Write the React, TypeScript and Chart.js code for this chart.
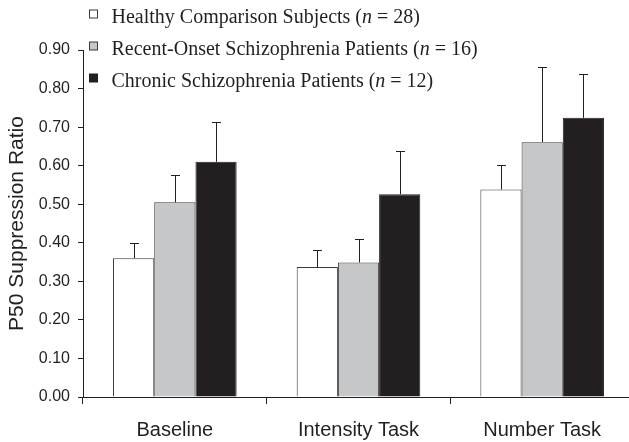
import React, { useEffect, useRef } from "react";
import { Chart, registerables } from "chart.js";

Chart.register(...registerables);

const categories = ["Baseline", "Intensity Task", "Number Task"];
const groupNames = [
  "Healthy Comparison Subjects",
  "Recent-Onset Schizophrenia Patients",
  "Chronic Schizophrenia Patients",
];
const groupN = [28, 16, 12];
const healthyMeans = [0.36, 0.337, 0.538];
const recentMeans = [0.505, 0.349, 0.661];
const chronicMeans = [0.61, 0.526, 0.724];
const healthyErr = [0.04, 0.045, 0.064];
const recentErr = [0.072, 0.061, 0.196];
const chronicErr = [0.104, 0.112, 0.115];
const yTicks = [0, 0.1, 0.2, 0.3, 0.4, 0.5, 0.6, 0.7, 0.8, 0.9];

const fills = ["#ffffff", "#c6c7c8", "#231f20"];
const borders = ["#3a3a3a", "#3a3a3a", "#231f20"];
const textColor = "#231f20";

const errorBarPlugin = {
  id: "errorBars",
  afterDatasetsDraw(chart: any) {
    const { ctx } = chart;
    const yScale = chart.scales.y;
    ctx.save();
    ctx.strokeStyle = "#231f20";
    ctx.lineWidth = 1;
    chart.data.datasets.forEach((ds: any, i: number) => {
      const meta = chart.getDatasetMeta(i);
      meta.data.forEach((el: any, j: number) => {
        const v = ds.data[j] + ds.errors[j];
        const yTop = Math.round(yScale.getPixelForValue(v)) + 0.5;
        const x = Math.round(el.x) + 0.5;
        ctx.beginPath();
        ctx.moveTo(x, el.y);
        ctx.lineTo(x, yTop);
        ctx.moveTo(x - 4.5, yTop);
        ctx.lineTo(x + 4.5, yTop);
        ctx.stroke();
      });
    });
    ctx.restore();
  },
};

const legendPlugin = {
  id: "customLegend",
  afterDraw(chart: any) {
    const { ctx } = chart;
    ctx.save();
    const boxX = 89.5;
    const textX = 111.5;
    const baseY = 23;
    const step = 32;
    groupNames.forEach((name, i) => {
      const by = baseY + i * step;
      ctx.fillStyle = fills[i];
      ctx.strokeStyle = borders[i];
      ctx.lineWidth = 1;
      ctx.fillRect(boxX, by - 13, 8, 8);
      ctx.strokeRect(boxX, by - 13, 8, 8);
      ctx.fillStyle = textColor;
      ctx.textBaseline = "alphabetic";
      ctx.textAlign = "left";
      let x = textX;
      const parts: [string, boolean][] = [
        [name + " (", false],
        ["n", true],
        [" = " + groupN[i] + ")", false],
      ];
      parts.forEach(([t, it]) => {
        ctx.font = (it ? "italic " : "") + '20px "Liberation Serif"';
        ctx.fillText(t, x, by);
        x += ctx.measureText(t).width;
      });
    });
    ctx.restore();
  },
};

export default function App() {
  const ref = useRef<HTMLCanvasElement | null>(null);
  useEffect(() => {
    if (!ref.current) return;
    const means = [healthyMeans, recentMeans, chronicMeans];
    const errs = [healthyErr, recentErr, chronicErr];
    const chart = new Chart(ref.current, {
      type: "bar",
      data: {
        labels: categories,
        datasets: groupNames.map((name, i) => ({
          label: name + " (n = " + groupN[i] + ")",
          data: means[i],
          errors: errs[i],
          backgroundColor: fills[i],
          borderColor: borders[i],
          borderWidth: 1,
          borderSkipped: "bottom",
          categoryPercentage: 0.673,
          barPercentage: 1,
        })) as any,
      },
      options: {
        animation: false,
        responsive: false,
        devicePixelRatio: 1,
        layout: { padding: { top: 50, right: 0, bottom: 0, left: 0 } },
        plugins: {
          legend: { display: false },
          tooltip: { enabled: false },
        },
        scales: {
          x: {
            grid: {
              offset: true,
              drawOnChartArea: false,
              drawTicks: true,
              tickLength: 7,
              color: "#231f20",
            },
            border: { display: true, color: "#231f20", width: 1 },
            ticks: {
              color: textColor,
              font: { family: '"Liberation Sans"', size: 20 },
              padding: 14,
            },
            afterFit(scale: any) {
              scale.height = 45;
            },
          },
          y: {
            min: 0,
            max: 0.9,
            afterBuildTicks(scale: any) {
              scale.ticks = yTicks.map((v) => ({ value: v }));
            },
            grid: {
              drawOnChartArea: false,
              drawTicks: true,
              tickLength: 5,
              color: "#231f20",
            },
            border: { display: true, color: "#231f20", width: 1 },
            ticks: {
              color: textColor,
              font: { family: '"Liberation Sans"', size: 16 },
              padding: 8,
              callback: (v: any) => Number(v).toFixed(2),
            },
            title: {
              display: true,
              text: "P50 Suppression Ratio",
              color: textColor,
              font: { family: '"Liberation Sans"', size: 21, weight: "normal" },
              padding: { top: 5, bottom: 0 },
            },
            afterFit(scale: any) {
              scale.width = 83;
            },
          },
        },
      },
      plugins: [errorBarPlugin, legendPlugin],
    });
    return () => chart.destroy();
  }, []);
  return (
    <div
      style={{
        position: "fixed",
        left: 0,
        top: 0,
        width: 629,
        height: 442,
        overflow: "hidden",
        background: "#fff",
      }}
    >
      <canvas ref={ref} width={634} height={442} style={{ display: "block" }} />
    </div>
  );
}
